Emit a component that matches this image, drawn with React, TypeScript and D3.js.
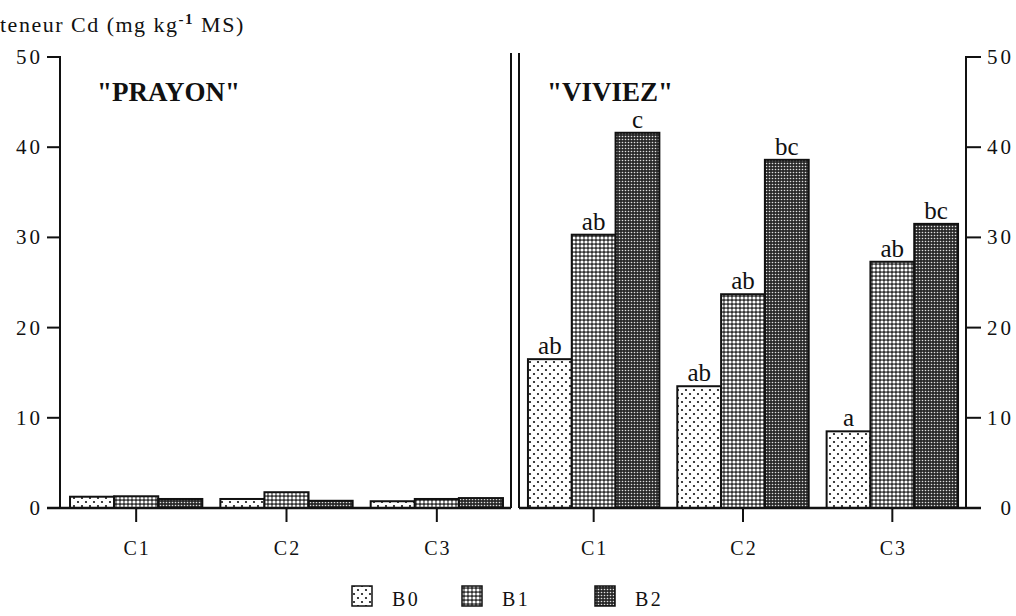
import React from "react";
import * as d3 from "d3";

const categories = ["C1", "C2", "C3"];
const series = ["B0", "B1", "B2"];
const prayonB0 = [1.25, 1.0, 0.75];
const prayonB1 = [1.3, 1.75, 1.0];
const prayonB2 = [1.0, 0.8, 1.1];
const viviezB0 = [16.5, 13.5, 8.5];
const viviezB1 = [30.3, 23.7, 27.3];
const viviezB2 = [41.6, 38.6, 31.5];
const viviezLetters = [
  ["ab", "ab", "c"],
  ["ab", "ab", "bc"],
  ["a", "ab", "bc"],
];
const yTicks = [0, 10, 20, 30, 40, 50];

const W = 1016;
const H = 616;
const FONT = "'Liberation Serif', 'DejaVu Serif', serif";

export default function App() {
  const y = d3.scaleLinear().domain([0, 50]).range([508, 57]);
  const leftX = d3.scaleBand<string>().domain(categories).range([61, 512]).paddingInner(0.12).paddingOuter(0.06);
  const rightX = d3.scaleBand<string>().domain(categories).range([519, 967]).paddingInner(0.12).paddingOuter(0.06);
  const leftSub = d3.scaleBand<string>().domain(series).range([0, leftX.bandwidth()]);
  const rightSub = d3.scaleBand<string>().domain(series).range([0, rightX.bandwidth()]);
  const prayon = [prayonB0, prayonB1, prayonB2];
  const viviez = [viviezB0, viviezB1, viviezB2];
  const fills = ["url(#pB0)", "url(#pB1)", "url(#pB2)"];

  const bars = (xs: any, sub: any, data: number[][], letters?: string[][]) =>
    categories.map((c, ci) =>
      series.map((s, si) => {
        const v = data[si][ci];
        const x0 = xs(c) + sub(s);
        return (
          <g key={c + s}>
            <rect x={x0} y={y(v)} width={sub.bandwidth()} height={y(0) - y(v)} fill={fills[si]} stroke="#111" strokeWidth={2} />
            {letters && (
              <text x={x0 + sub.bandwidth() / 2} y={y(v) - 5} textAnchor="middle" fontSize={25} fontFamily={FONT} fill="#111">
                {letters[ci][si]}
              </text>
            )}
          </g>
        );
      })
    );

  const legendX = [352, 462, 595];

  return (
    <svg width={W} height={H} style={{ position: "absolute", left: 0, top: 0, background: "#fff" }}>
      <defs>
        <pattern id="pB0" width={8} height={8} patternUnits="userSpaceOnUse">
          <rect width={8} height={8} fill="#fff" />
          <circle cx={2} cy={2} r={1.1} fill="#111" />
          <circle cx={6} cy={6} r={1.1} fill="#111" />
        </pattern>
        <pattern id="pB1" width={4} height={4} patternUnits="userSpaceOnUse">
          <rect width={4} height={4} fill="#333" />
          <circle cx={2} cy={2} r={1.6} fill="#fff" />
        </pattern>
        <pattern id="pB2" width={3} height={3} patternUnits="userSpaceOnUse">
          <rect width={3} height={3} fill="#2a2a2a" />
          <circle cx={1.5} cy={1.5} r={0.8} fill="#e0e0e0" />
        </pattern>
      </defs>

      <text x={0} y={32} fontSize={22} fontFamily={FONT} fill="#111" letterSpacing={1.5}>
        teneur Cd (mg kg<tspan dy={-8} fontSize={15} fontWeight="bold">-1</tspan><tspan dy={8}> MS)</tspan>
      </text>

      {/* left axis */}
      <line x1={60} x2={60} y1={y(50) - 1} y2={y(0)} stroke="#111" strokeWidth={2} />
      {yTicks.map((t) => (
        <g key={"l" + t}>
          <line x1={47} x2={60} y1={y(t)} y2={y(t)} stroke="#111" strokeWidth={2} />
          <text x={43} y={y(t) + 7} textAnchor="end" fontSize={21} fontFamily={FONT} fill="#111" letterSpacing={3}>{t}</text>
        </g>
      ))}
      {/* right axis */}
      <line x1={966} x2={966} y1={y(50) - 1} y2={y(0)} stroke="#111" strokeWidth={2} />
      {yTicks.map((t) => (
        <g key={"r" + t}>
          <line x1={966} x2={981} y1={y(t)} y2={y(t)} stroke="#111" strokeWidth={2} />
          <text x={1014} y={y(t) + 7} textAnchor="end" fontSize={21} fontFamily={FONT} fill="#111" letterSpacing={3}>{t}</text>
        </g>
      ))}

      {/* separators */}
      <line x1={511} x2={511} y1={53} y2={y(0)} stroke="#111" strokeWidth={2} />
      <line x1={519} x2={519} y1={53} y2={y(0)} stroke="#111" strokeWidth={2} />

      {bars(leftX, leftSub, prayon)}
      {bars(rightX, rightSub, viviez, viviezLetters)}

      {/* baselines */}
      <line x1={47} x2={511} y1={y(0)} y2={y(0)} stroke="#111" strokeWidth={2.5} />
      <line x1={519} x2={981} y1={y(0)} y2={y(0)} stroke="#111" strokeWidth={2.5} />

      {categories.map((c) => (
        <g key={"cx" + c}>
          <line x1={leftX(c)! + leftX.bandwidth() / 2} x2={leftX(c)! + leftX.bandwidth() / 2} y1={y(0)} y2={y(0) + 14} stroke="#111" strokeWidth={2} />
          <text x={leftX(c)! + leftX.bandwidth() / 2 + 1} y={555} textAnchor="middle" fontSize={20} fontFamily={FONT} fill="#111" letterSpacing={2}>{c}</text>
          <line x1={rightX(c)! + rightX.bandwidth() / 2} x2={rightX(c)! + rightX.bandwidth() / 2} y1={y(0)} y2={y(0) + 14} stroke="#111" strokeWidth={2} />
          <text x={rightX(c)! + rightX.bandwidth() / 2 + 1} y={555} textAnchor="middle" fontSize={20} fontFamily={FONT} fill="#111" letterSpacing={2}>{c}</text>
        </g>
      ))}

      <text x={97} y={101} fontSize={27} fontWeight="bold" fontFamily={FONT} fill="#111">"PRAYON"</text>
      <text x={547} y={101} fontSize={27} fontWeight="bold" fontFamily={FONT} fill="#111">"VIVIEZ"</text>

      {series.map((s, i) => (
        <g key={"lg" + s}>
          <rect x={legendX[i]} y={586} width={20} height={20} fill={fills[i]} stroke="#111" strokeWidth={1.5} />
          <text x={legendX[i] + 40} y={606} fontSize={20} fontFamily={FONT} fill="#111" letterSpacing={2.5}>{s}</text>
        </g>
      ))}
    </svg>
  );
}
